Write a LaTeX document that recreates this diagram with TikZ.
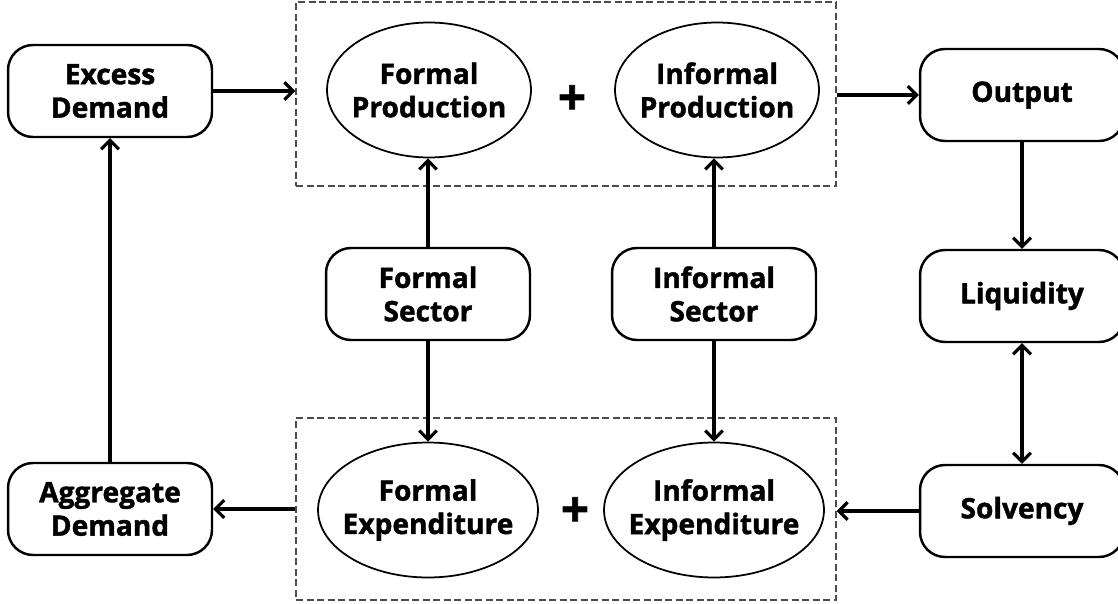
\documentclass[tikz,border=0pt]{standalone}
\usepackage{fontspec}
\setmainfont{Open Sans}[BoldFeatures={FakeBold=1.5}]
\usetikzlibrary{arrows.meta,shapes.geometric}

\begin{document}
\begin{tikzpicture}[
    x=0.02cm, y=-0.02cm,
    every node/.style={font=\fontsize{16}{19}\selectfont\bfseries,align=center},
    boxes/.style={rectangle,rounded corners=0.5cm,draw,line width=1.4pt,minimum width=4.08cm,minimum height=1.84cm},
    ovals/.style={ellipse,draw,line width=1pt,inner sep=-20pt,minimum width=#1,minimum height=2.7cm},
    group/.style={draw=black!70,dash pattern=on 4pt off 2pt,line width=0.7pt,minimum width=10.8cm,minimum height=#1},
    arr/.style={line width=1.8pt,-{Straight Barb[length=5pt,width=10pt]}},
    plus/.style={font=\fontsize{28}{28}\selectfont\bfseries},
  ]
\useasboundingbox (0,0) rectangle (1118,604);

\node (prod group) [group=3.68cm] at (566,94) {};
\node (exp group) [group=3.64cm] at (566,509) {};

\node (excess) [boxes] at (110,91) {Excess\\Demand};
\node (agg demand) [boxes] at (110,509) {Aggregate\\Demand};
\node (output) [boxes] at (1022,95) {Output};
\node (liquidity) [boxes] at (1022,296) {Liquidity};
\node (solvency) [boxes] at (1022,511) {Solvency};
\node (formal sector) [boxes] at (428,294) {Formal\\Sector};
\node (informal sector) [boxes] at (714,294) {Informal\\Sector};

\node (formal prod) [ovals=4.08cm] at (429,90) {Formal\\Production};
\node (informal prod) [ovals=4.08cm] at (717,90) {Informal\\Production};
\node (formal exp) [ovals=4.4cm] at (428,510) {Formal\\Expenditure};
\node (informal exp) [ovals=4.4cm] at (714,510) {Informal\\Expenditure};
\node (prod plus) [plus] at (572,100) {+};
\node (exp plus) [plus] at (575,512) {+};

\draw[arr] (excess.east) -- (excess.east -| prod group.west);
\draw[arr] (prod group.east |- output) -- (output.west);
\draw[arr] (output) -- (liquidity);
\draw[arr,{Straight Barb[length=5pt,width=10pt]}-{Straight Barb[length=5pt,width=10pt]}] (liquidity) -- (solvency);
\draw[arr] (solvency.west) -- (solvency.west -| exp group.east);
\draw[arr] (exp group.west |- agg demand) -- (agg demand.east);
\draw[arr] (agg demand) -- (excess);

\draw[arr] (formal sector.north) -- (formal sector.north |- formal prod.south);
\draw[arr] (formal sector.south) -- (formal sector.south |- formal exp.north);
\draw[arr] (informal sector.north) -- (informal sector.north |- informal prod.south);
\draw[arr] (informal sector.south) -- (informal sector.south |- informal exp.north);
\end{tikzpicture}
\end{document}
